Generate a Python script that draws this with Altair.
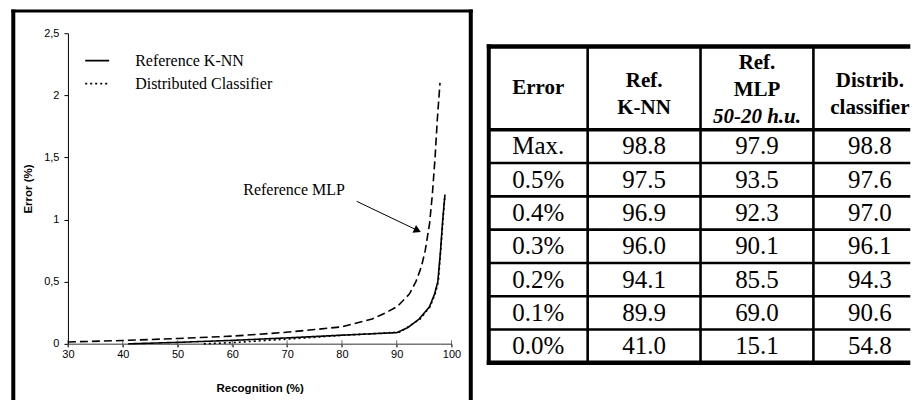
import altair as alt
import pandas as pd

# ---------------- curve data (Recognition %, Error %) ----------------
knn_rec = [41.0, 50.0, 60.0, 70.0, 80.0, 90.0, 92.0, 94.1, 96.0, 96.9, 97.5, 98.0, 98.4, 98.8]
knn_err = [0.0, 0.012, 0.028, 0.048, 0.07, 0.09, 0.13, 0.2, 0.3, 0.4, 0.5, 0.75, 1.0, 1.2]
mlp_rec = [30.0, 40.0, 50.0, 60.0, 69.0, 75.0, 80.0, 85.5, 88.0, 90.1, 92.3, 93.5, 94.5,
           95.2, 96.0, 96.5, 97.0, 97.4, 97.9]
mlp_err = [0.015, 0.027, 0.043, 0.062, 0.09, 0.115, 0.137, 0.2, 0.25, 0.3, 0.4, 0.5, 0.62,
           0.75, 0.97, 1.2, 1.5, 1.8, 2.1]
dist_rec = [54.8, 60.0, 70.0, 80.0, 90.6, 94.3, 96.1, 97.0, 97.6, 98.1, 98.8]
dist_err = [0.0, 0.01, 0.038, 0.068, 0.095, 0.2, 0.3, 0.4, 0.5, 0.8, 1.2]

series_names = ["Reference K-NN", "Reference MLP", "Distributed Classifier"]
legend_names = ["Reference K-NN", "Distributed Classifier"]
dash_styles = [[1, 0], [8, 4], [2, 3]]

x_ticks = [30, 40, 50, 60, 70, 80, 90, 100]
y_ticks = [0, 0.5, 1, 1.5, 2, 2.5]

annot_text = ["Reference MLP"]
annot_rec = [62.0]
annot_err = [1.235]
arrow_rec = [82.7, 93.8]
arrow_err = [1.147, 0.913]

# ---------------- table data ----------------
header_lines = [["Error"], ["Ref.", "K-NN"], ["Ref.", "MLP"], ["Distrib.", "classifier"]]
header_sub = ["", "", "50-20 h.u.", ""]
row_labels = ["Max.", "0.5%", "0.4%", "0.3%", "0.2%", "0.1%", "0.0%"]
knn_col = [98.8, 97.5, 96.9, 96.0, 94.1, 89.9, 41.0]
mlp_col = [97.9, 93.5, 92.3, 90.1, 85.5, 69.0, 15.1]
dist_col = [98.8, 97.6, 97.0, 96.1, 94.3, 90.6, 54.8]

SANS = "Liberation Sans"
SERIF = "Liberation Serif"

# ================= left: line chart =================
W, H = 384, 311

lines_df = pd.concat([
    pd.DataFrame({"series": series_names[0], "rec": knn_rec, "err": knn_err}),
    pd.DataFrame({"series": series_names[1], "rec": mlp_rec, "err": mlp_err}),
    pd.DataFrame({"series": series_names[2], "rec": dist_rec, "err": dist_err}),
], ignore_index=True)

xscale = alt.Scale(domain=[30, 100], nice=False, zero=False)
yscale = alt.Scale(domain=[0, 2.5], nice=False)

lines = alt.Chart(lines_df).mark_line(strokeWidth=1.6, color="black", clip=False).encode(
    x=alt.X("rec:Q", scale=xscale,
            axis=alt.Axis(values=x_ticks, title="Recognition (%)", grid=False,
                          labelFlush=False, labelOverlap=False,
                          labelFont=SANS, labelFontSize=11, labelColor="black",
                          titleFont=SANS, titleFontSize=11.5, titleFontWeight="bold",
                          titleColor="black", titlePadding=23,
                          domainColor="#777777", domainWidth=1.5,
                          tickColor="#333333", tickSize=3, labelPadding=2)),
    y=alt.Y("err:Q", scale=yscale,
            axis=alt.Axis(values=y_ticks, title="Error (%)", grid=False,
                          labelFlush=False, labelOverlap=False,
                          labelExpr="replace(format(datum.value, '~g'), '.', ',')",
                          labelFont=SANS, labelFontSize=11, labelColor="black",
                          titleFont=SANS, titleFontSize=11.5, titleFontWeight="bold",
                          titleColor="black", titlePadding=10,
                          domainColor="black", domainWidth=1,
                          tickColor="black", tickSize=4, labelPadding=5)),
    strokeDash=alt.StrokeDash(
        "series:N",
        scale=alt.Scale(domain=series_names, range=dash_styles),
        legend=alt.Legend(values=legend_names, title=None, orient="none",
                          legendX=16.3, legendY=14.5, padding=0,
                          labelFont=SERIF, labelFontSize=16, labelColor="black",
                          labelOffset=25, labelLimit=400,
                          symbolType="stroke", symbolSize=576,
                          symbolStrokeWidth=1.6, symbolStrokeColor="black",
                          rowPadding=2),
    ),
)

tick_df = pd.DataFrame({"rec": x_ticks, "err": [0.0] * len(x_ticks)})
xticks = alt.Chart(tick_df).mark_tick(orient="vertical", size=7, thickness=1,
                                      color="#333333").encode(
    x=alt.X("rec:Q", scale=xscale), y=alt.Y("err:Q", scale=yscale))

annot_df = pd.DataFrame({"rec": annot_rec, "err": annot_err, "t": annot_text})
annot = alt.Chart(annot_df).mark_text(align="left", baseline="middle", font=SERIF,
                                      fontSize=16, color="black").encode(
    x="rec:Q", y="err:Q", text="t:N")

arrow_df = pd.DataFrame({"rec": [arrow_rec[0]], "err": [arrow_err[0]],
                         "rec2": [arrow_rec[1]], "err2": [arrow_err[1]]})
arrow = alt.Chart(arrow_df).mark_rule(color="black", strokeWidth=1).encode(
    x="rec:Q", y="err:Q", x2="rec2:Q", y2="err2:Q")
head_df = pd.DataFrame({"rec": [arrow_rec[1]], "err": [arrow_err[1]]})
head = alt.Chart(head_df).mark_point(shape="triangle-right", filled=True, size=70,
                                     angle=25, color="black", opacity=1).encode(
    x="rec:Q", y="err:Q")

# frame around the plot (filled bars, so their bounds are exact)
one = pd.DataFrame({"a": [0]})
frame_left = alt.Chart(one).mark_rect(color="black").encode(
    x=alt.value(-56.7), x2=alt.value(-52.7), y=alt.value(-23.7), y2=alt.value(368.3))
frame_right = alt.Chart(one).mark_rect(color="black").encode(
    x=alt.value(401.3), x2=alt.value(405.3), y=alt.value(-23.7), y2=alt.value(368.3))
frame_top = alt.Chart(one).mark_rect(color="black").encode(
    x=alt.value(-56.7), x2=alt.value(405.3), y=alt.value(-23.7), y2=alt.value(-20.7))

left = alt.layer(lines, xticks, annot, arrow, head, frame_left, frame_right, frame_top
                 ).properties(width=W, height=H)

# ================= right: table =================
col_px = [99.0, 113.0, 113.0, 113.0]   # column widths (layout)
TW, TH = 422, 330
row_px = TH / 9.9                      # body row height
header_units = 2.5
nrows = len(row_labels)
bottom = header_units + nrows

edges = [0.0]
for wpx in col_px:
    edges.append(edges[-1] + wpx)
xmax = float(TW)

seg = []
def vline(xc, t, y0, y1):
    seg.append({"x": xc - t / 2, "x2": xc + t / 2, "y": y0, "y2": y1})
def hline(yc, t, x0, x1):
    seg.append({"x": x0, "x2": x1, "y": yc - t / 2 / row_px, "y2": yc + t / 2 / row_px})

outer = 4.5
vline(edges[0], 4.0, -outer / 2 / row_px, bottom + outer / 2 / row_px)
for e in edges[1:4]:
    vline(e, 2.6, 0, bottom)
hline(0, outer, -2.0, xmax)
hline(header_units, 3.5, 0, xmax)
for r in range(1, nrows):
    hline(header_units + r, 2.6, 0, xmax)
hline(bottom, outer, -2.0, xmax)
seg_df = pd.DataFrame(seg)

tx = alt.Scale(domain=[0, TW], nice=False, zero=False)
ty = alt.Scale(domain=[-0.4, bottom], nice=False, zero=False, reverse=True)

grid = alt.Chart(seg_df).mark_rect(color="black").encode(
    x=alt.X("x:Q", scale=tx, axis=None), x2="x2:Q",
    y=alt.Y("y:Q", scale=ty, axis=None), y2="y2:Q")

centers = [(edges[i] + edges[i + 1]) / 2 for i in range(4)]

body = []
cols = [row_labels,
        [f"{v:.1f}" for v in knn_col],
        [f"{v:.1f}" for v in mlp_col],
        [f"{v:.1f}" for v in dist_col]]
for c, col in enumerate(cols):
    for r, t in enumerate(col):
        body.append({"x": centers[c], "y": header_units + r + 0.5, "t": t})
body_df = pd.DataFrame(body)

block_center = {1: 1.25, 2: 1.44, 3: 1.31}
line_step = 0.8
hb, hi = [], []
for c, lines_c in enumerate(header_lines):
    items = list(lines_c) + ([header_sub[c]] if header_sub[c] else [])
    n = len(items)
    for k, t in enumerate(items):
        yy = block_center[n] + (k - (n - 1) / 2) * line_step
        rec = {"x": centers[c], "y": yy, "t": t}
        if k < len(lines_c):
            hb.append(rec)
        else:
            hi.append(rec)
hb_df = pd.DataFrame(hb)
hi_df = pd.DataFrame(hi)

body_text = alt.Chart(body_df).mark_text(font=SERIF, fontSize=25, color="black",
                                         baseline="middle", align="center").encode(
    x=alt.X("x:Q", scale=tx), y=alt.Y("y:Q", scale=ty), text="t:N")
head_text = alt.Chart(hb_df).mark_text(font=SERIF, fontSize=21, fontWeight="bold",
                                       color="black", baseline="middle",
                                       align="center").encode(
    x=alt.X("x:Q", scale=tx), y=alt.Y("y:Q", scale=ty), text="t:N")
sub_text = alt.Chart(hi_df).mark_text(font=SERIF, fontSize=21, fontWeight="bold",
                                      fontStyle="italic", color="black",
                                      baseline="middle", align="center").encode(
    x=alt.X("x:Q", scale=tx), y=alt.Y("y:Q", scale=ty), text="t:N")

table = alt.layer(grid, body_text, head_text, sub_text).properties(width=TW, height=TH)

chart = alt.hconcat(left, table, spacing=37.3, bounds="flush").properties(
    padding={"left": 2, "top": 0, "right": 0, "bottom": 0},
    autosize=alt.AutoSizeParams(type="pad"),
    background="white",
).configure_view(stroke="transparent")

chart.save("out.html", embed_options={"renderer": "svg", "actions": False})
